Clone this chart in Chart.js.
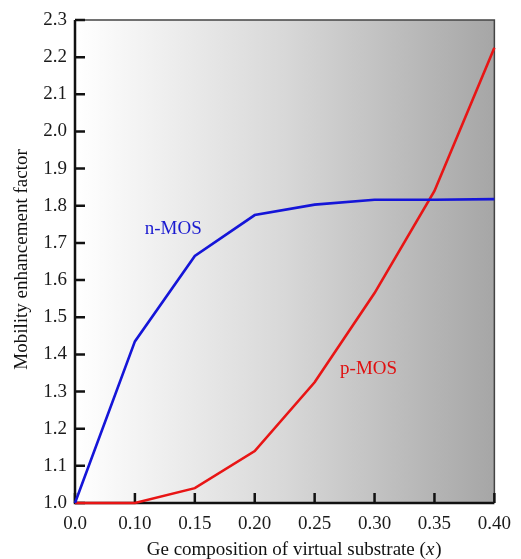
<!DOCTYPE html>
<html>
<head>
<meta charset="utf-8">
<script src="https://cdn.jsdelivr.net/npm/chart.js@4/dist/chart.umd.min.js"></script>
<style>
  html, body { margin: 0; padding: 0; background: #fff; }
  #wrap { width: 521px; height: 559px; }
</style>
</head>
<body>
<div id="wrap"><canvas id="c" width="521" height="559"></canvas></div>
<script>
// Ge composition of the virtual substrate (category axis)
const geComposition = ['0.0', '0.10', '0.15', '0.20', '0.25', '0.30', '0.35', '0.40'];
// Mobility enhancement factor per composition
const nMos = [1.0, 1.435, 1.665, 1.775, 1.803, 1.816, 1.816, 1.818];
const pMos = [1.0, 1.0, 1.04, 1.14, 1.325, 1.565, 1.84, 2.225];
// Y axis range
const yMin = 1.0;
const yMax = 2.3;

const SERIF = "'Liberation Serif', 'Times New Roman', serif";

// Grey horizontal gradient behind the plot, frame and inward tick marks
const backdrop = {
  id: 'backdrop',
  beforeDatasetsDraw(chart) {
    const { ctx, chartArea: a, scales: { x, y } } = chart;
    ctx.save();
    const g = ctx.createLinearGradient(a.left, 0, a.right, 0);
    g.addColorStop(0, '#ffffff');
    g.addColorStop(0.5, '#d8d8d8');
    g.addColorStop(1, '#a6a6a6');
    ctx.fillStyle = g;
    ctx.fillRect(a.left, a.top, a.right - a.left, a.bottom - a.top);

    ctx.strokeStyle = '#444';
    ctx.lineWidth = 1.5;
    ctx.beginPath();
    ctx.moveTo(a.left, a.top);
    ctx.lineTo(a.right, a.top);
    ctx.lineTo(a.right, a.bottom);
    ctx.stroke();

    ctx.strokeStyle = '#111';
    ctx.lineWidth = 2.5;
    ctx.beginPath();
    x.ticks.forEach((t, i) => {
      const px = x.getPixelForTick(i);
      ctx.moveTo(px, a.bottom);
      ctx.lineTo(px, a.bottom - 10);
    });
    y.ticks.forEach((t, i) => {
      const py = y.getPixelForTick(i);
      ctx.moveTo(a.left, py);
      ctx.lineTo(a.left + 10, py);
    });
    ctx.stroke();

    // axis lines (left and bottom)
    ctx.beginPath();
    ctx.moveTo(a.left, a.top);
    ctx.lineTo(a.left, a.bottom);
    ctx.lineTo(a.right, a.bottom);
    ctx.stroke();
    ctx.restore();
  }
};

// Series labels and axis titles
const decorations = {
  id: 'decorations',
  afterDatasetsDraw(chart) {
    const { ctx, chartArea: a, scales: { x, y } } = chart;
    ctx.save();

    // series labels
    ctx.font = '19px ' + SERIF;
    ctx.textAlign = 'center';
    ctx.textBaseline = 'middle';
    ctx.fillStyle = '#1a1ad0';
    ctx.fillText('n-MOS', x.getPixelForValue(1.64), y.getPixelForValue(1.738));
    ctx.fillStyle = '#e01010';
    ctx.fillText('p-MOS', x.getPixelForValue(4.9), y.getPixelForValue(1.36));

    // x axis title with italic variable
    const fs = 19;
    ctx.fillStyle = '#111';
    ctx.font = fs + 'px ' + SERIF;
    const partA = 'Ge composition of virtual substrate (';
    const partC = ')';
    const wA = ctx.measureText(partA).width;
    const wC = ctx.measureText(partC).width;
    ctx.font = 'italic ' + fs + 'px ' + SERIF;
    const wB = ctx.measureText('x').width;
    const total = wA + wB + wC;
    const sx = (a.left + a.right) / 2 + 9 - total / 2;
    const ty = 550;
    ctx.textAlign = 'left';
    ctx.font = fs + 'px ' + SERIF;
    ctx.fillText(partA, sx, ty);
    ctx.font = 'italic ' + fs + 'px ' + SERIF;
    ctx.fillText('x', sx + wA, ty);
    ctx.font = fs + 'px ' + SERIF;
    ctx.fillText(partC, sx + wA + wB + 1, ty);

    // y axis title
    ctx.translate(22, (a.top + a.bottom) / 2 - 2);
    ctx.rotate(-Math.PI / 2);
    ctx.textAlign = 'center';
    ctx.fillText('Mobility enhancement factor', 0, 0);
    ctx.restore();
  }
};

new Chart(document.getElementById('c'), {
  type: 'line',
  data: {
    labels: geComposition,
    datasets: [
      {
        label: 'n-MOS',
        data: nMos,
        borderColor: '#1515d8',
        borderWidth: 2.6,
        pointRadius: 0,
        tension: 0,
        fill: false,
        clip: false
      },
      {
        label: 'p-MOS',
        data: pMos,
        borderColor: '#e81515',
        borderWidth: 2.6,
        pointRadius: 0,
        tension: 0,
        fill: false,
        clip: false
      }
    ]
  },
  options: {
    responsive: false,
    animation: false,
    devicePixelRatio: 1,
    layout: { padding: { top: 20, right: 24, left: 0, bottom: 0 } },
    plugins: {
      legend: { display: false },
      tooltip: { enabled: false }
    },
    scales: {
      x: {
        type: 'category',
        offset: false,
        grid: { display: false, drawTicks: false },
        border: { display: false },
        ticks: {
          padding: 10,
          color: '#1a1a1a',
          font: { family: SERIF, size: 19 },
          maxRotation: 0,
          autoSkip: false
        },
        afterFit(scale) { scale.height = 56; }
      },
      y: {
        min: yMin,
        max: yMax,
        grid: { display: false, drawTicks: false },
        border: { display: false },
        ticks: {
          stepSize: 0.1,
          padding: 8,
          color: '#1a1a1a',
          font: { family: SERIF, size: 19 },
          callback: (v) => Number(v).toFixed(1)
        },
        afterFit(scale) { scale.width = 75; }
      }
    }
  },
  plugins: [backdrop, decorations]
});
</script>
</body>
</html>
